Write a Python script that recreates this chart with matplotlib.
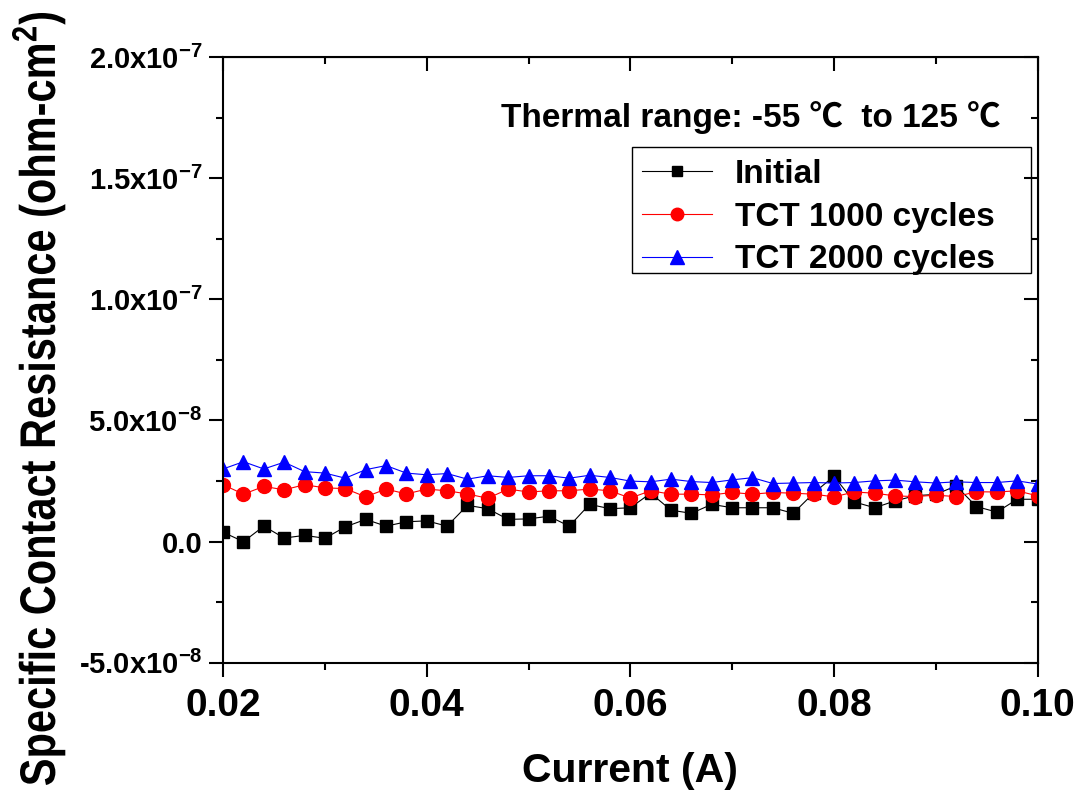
import math
import matplotlib
matplotlib.use("Agg")
import matplotlib.pyplot as plt
from matplotlib.ticker import MultipleLocator, FuncFormatter
from matplotlib.textpath import TextPath
from matplotlib.patches import PathPatch, Rectangle
from matplotlib.font_manager import FontProperties
from matplotlib.transforms import Affine2D, IdentityTransform

plt.rcParams['font.family'] = ['Liberation Sans', 'DejaVu Sans']
plt.rcParams['font.weight'] = 'bold'
plt.rcParams['mathtext.fontset'] = 'custom'
plt.rcParams['mathtext.rm'] = 'Liberation Sans:bold'
plt.rcParams['mathtext.bf'] = 'Liberation Sans:bold'
plt.rcParams['mathtext.it'] = 'Liberation Sans:bold'

# current (A)
current = [0.020 + 0.002 * i for i in range(41)]

# specific contact resistance, in units of 1e-8 ohm-cm^2
initial = [0.39, 0.0, 0.64, 0.15, 0.26, 0.14, 0.61, 0.92, 0.64, 0.82,
           0.86, 0.64, 1.5, 1.36, 0.92, 0.94, 1.05, 0.64, 1.54, 1.36,
           1.4, 2.0, 1.3, 1.17, 1.54, 1.4, 1.4, 1.4, 1.17, 2.0,
           2.7, 1.64, 1.4, 1.68, 1.9, 1.95, 2.3, 1.45, 1.22, 1.75, 1.75]
tct1000 = [2.35, 1.96, 2.28, 2.14, 2.35, 2.22, 2.19, 1.85, 2.17, 1.97,
           2.17, 2.1, 1.97, 1.79, 2.17, 2.05, 2.1, 2.1, 2.17, 2.1,
           1.8, 2.1, 1.96, 1.96, 1.93, 2.03, 1.96, 2.03, 2.0, 1.96,
           1.85, 2.05, 2.0, 1.89, 1.86, 1.92, 1.86, 2.06, 2.05, 2.1, 1.89]
tct2000 = [3.0, 3.3, 3.0, 3.28, 2.89, 2.83, 2.62, 2.97, 3.14, 2.83,
           2.76, 2.81, 2.58, 2.72, 2.65, 2.72, 2.72, 2.62, 2.74, 2.65,
           2.5, 2.47, 2.58, 2.48, 2.44, 2.55, 2.64, 2.4, 2.42, 2.44,
           2.42, 2.44, 2.51, 2.54, 2.47, 2.42, 2.47, 2.44, 2.44, 2.51, 2.38]

labels = ['Initial', 'TCT 1000 cycles', 'TCT 2000 cycles']

fig = plt.figure(figsize=(10.83, 7.91), dpi=100)
ax = fig.add_axes([0.206, 0.162, 0.752, 0.766])

ax.plot(current, [v * 1e-8 for v in initial], color='black', lw=0.8,
        marker='s', ms=8.5, label=labels[0])
ax.plot(current, [v * 1e-8 for v in tct1000], color='red', lw=0.8,
        marker='o', ms=10, label=labels[1])
ax.plot(current, [v * 1e-8 for v in tct2000], color='blue', lw=0.8,
        marker='^', ms=10.5, label=labels[2])

ax.set_xlim(0.02, 0.10)
ax.set_ylim(-5e-8, 2e-7)
ax.xaxis.set_major_locator(MultipleLocator(0.02))
ax.xaxis.set_minor_locator(MultipleLocator(0.01))
ax.yaxis.set_major_locator(MultipleLocator(5e-8))
ax.yaxis.set_minor_locator(MultipleLocator(2.5e-8))


def sci_fmt(v, pos):
    if abs(v) < 1e-12:
        return '0.0'
    exp = math.floor(math.log10(abs(v)) + 1e-9)
    mant = v / 10 ** exp
    return '%.1fx10$^{%d}$' % (mant, exp)


ax.yaxis.set_major_formatter(FuncFormatter(sci_fmt))
ax.xaxis.set_major_formatter(FuncFormatter(lambda v, p: '%.2f' % v))

ax.tick_params(axis='both', which='both', width=1.5)
ax.tick_params(axis='both', which='major', length=10)
ax.tick_params(axis='both', which='minor', length=5)
ax.tick_params(axis='y', labelsize=21, pad=5)
ax.tick_params(axis='x', labelsize=28, pad=8)
for s in ax.spines.values():
    s.set_linewidth(1.5)

# inward ticks on top and right
top = ax.secondary_xaxis('top')
top.xaxis.set_major_locator(MultipleLocator(0.02))
top.xaxis.set_minor_locator(MultipleLocator(0.01))
top.tick_params(which='both', direction='in', width=1.5, labeltop=False)
top.tick_params(which='major', length=10)
top.tick_params(which='minor', length=5)
right = ax.secondary_yaxis('right')
right.yaxis.set_major_locator(MultipleLocator(5e-8))
right.yaxis.set_minor_locator(MultipleLocator(2.5e-8))
right.tick_params(which='both', direction='in', width=1.5, labelright=False)
right.tick_params(which='major', length=10)
right.tick_params(which='minor', length=5)

ax.set_xlabel('Current (A)', fontsize=29.5, fontweight='bold', labelpad=20)

# y label in a condensed bold face: squeeze a text path horizontally
ylab = 'Specific Contact Resistance (ohm-cm$^2$)'
tp = TextPath((0, 0), ylab, size=50,
              prop=FontProperties(family='Liberation Sans', weight='bold'))
ext = tp.get_extents()
squeeze = Affine2D().translate(-ext.x0, 0).scale(772 / ext.width, 1) \
    .rotate_deg(90).translate(55, 6)
fig.add_artist(PathPatch(squeeze.transform_path(tp), facecolor='black',
                         edgecolor='none', transform=IdentityTransform()))

ax.text(0.955, 0.90, 'Thermal range: -55 \u2103  to 125 \u2103',
        transform=ax.transAxes, ha='right', va='center', fontsize=24,
        fontweight='bold', family=['Liberation Sans', 'Noto Sans CJK SC'])

leg = ax.legend(loc='upper left', bbox_to_anchor=(0.506, 0.843),
                borderaxespad=0, fontsize=24, handlelength=2.1,
                frameon=False, labelspacing=0.355, borderpad=0.2,
                handletextpad=0.69, markerscale=0.9)
ax.add_patch(Rectangle((0.5025, 0.6436), 0.4889, 0.2079,
                       transform=ax.transAxes, fill=False,
                       edgecolor='black', lw=1.0, zorder=5))

fig.savefig('out.png', dpi=100)
